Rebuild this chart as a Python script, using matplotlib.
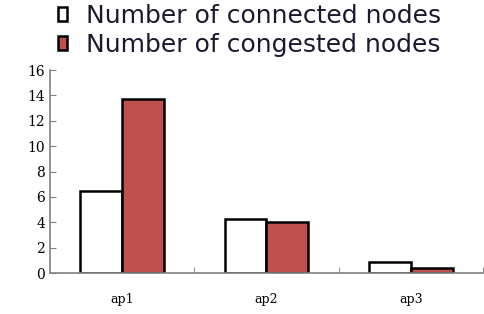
import numpy as np
import matplotlib.pyplot as plt
from matplotlib.patches import Patch

categories = ["ap1", "ap2", "ap3"]
connected = [6.5, 4.25, 0.87]
congested = [13.7, 4.05, 0.4]

fig = plt.figure(figsize=(4.84, 3.14), dpi=100)
ax = fig.add_axes([0.103, 0.13, 0.895, 0.647])

x = np.arange(len(categories))
w = 0.29
ax.bar(x - w / 2, connected, w, color="white", edgecolor="black", linewidth=1.8)
ax.bar(x + w / 2, congested, w, color="#C0504D", edgecolor="black", linewidth=1.8)

ax.set_xlim(-0.5, 2.5)
ax.set_ylim(0, 16)
ax.set_yticks(range(0, 17, 2))
ax.set_xticks(x)
ax.set_xticklabels(categories, family="DejaVu Serif", fontsize=9)
ax.set_xticks([0.5, 1.5, 2.5], minor=True)
ax.tick_params(axis="x", which="major", length=0, pad=14)
ax.tick_params(axis="x", which="minor", direction="in", length=4, color="#808080")
ax.tick_params(axis="y", direction="in", length=4, color="#808080", labelsize=10)
for lab in ax.get_yticklabels():
    lab.set_family("DejaVu Serif")

for s in ["top", "right"]:
    ax.spines[s].set_visible(False)
for s in ["left", "bottom"]:
    ax.spines[s].set_color("#808080")
    ax.spines[s].set_linewidth(1.2)

handles = [
    Patch(facecolor="white", edgecolor="black", linewidth=1.8, label="Number of connected nodes"),
    Patch(facecolor="#C0504D", edgecolor="black", linewidth=1.8, label="Number of congested nodes"),
]
fig.legend(handles=handles, loc="upper left", bbox_to_anchor=(0.115, 0.995), frameon=False,
           fontsize=18, handlelength=0.35, handleheight=0.5, handletextpad=0.75,
           labelspacing=0.2, borderaxespad=0, borderpad=0.1, labelcolor="#1a1a2e")

fig.savefig("out.png", dpi=100)
